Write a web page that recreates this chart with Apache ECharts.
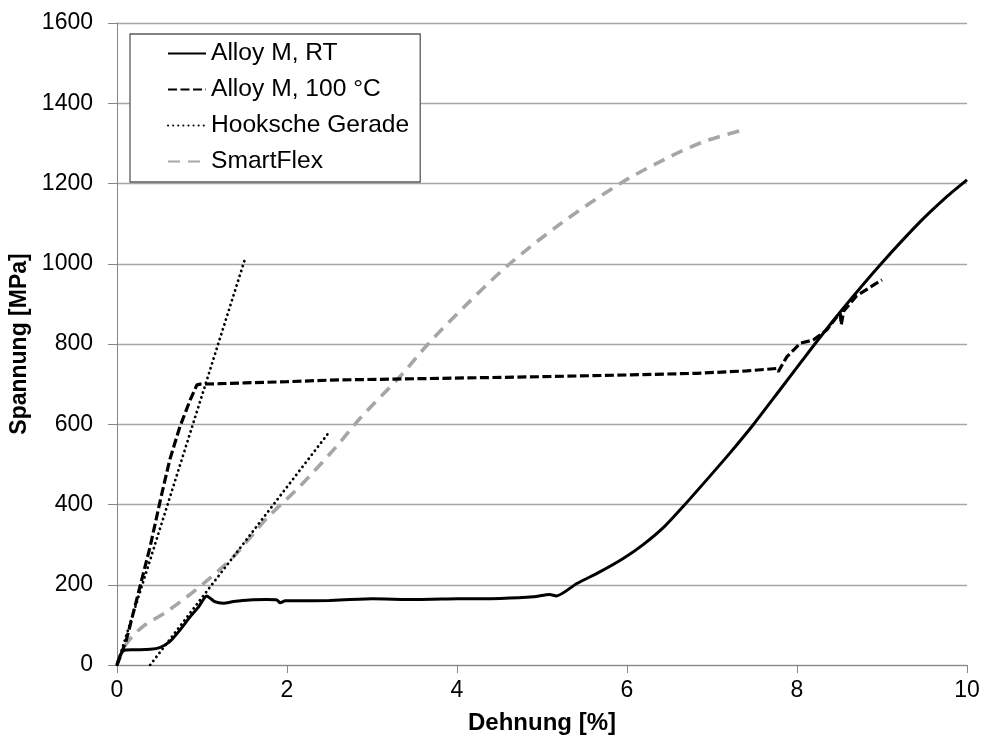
<!DOCTYPE html>
<html>
<head>
<meta charset="utf-8">
<script src="https://cdn.jsdelivr.net/npm/echarts@6/dist/echarts.min.js"></script>
<style>
  html, body { margin: 0; padding: 0; background: #fff; }
  #chart { width: 984px; height: 744px; }
</style>
</head>
<body>
<div id="chart"></div>
<script>
// Strain [%] / stress [MPa] pairs for each curve
const alloyRT = [
  [0, 0], [0.03, 20], [0.075, 36], [0.19, 38], [0.39, 39], [0.51, 44], [0.62, 58],
  [0.74, 87], [0.86, 120], [0.96, 145], [1.055, 172], [1.15, 158], [1.25, 154],
  [1.37, 158], [1.56, 162], [1.76, 163], [1.88, 162], [1.92, 155], [1.98, 160],
  [2.15, 160], [2.5, 161], [3.0, 165], [3.5, 163], [4.0, 165], [4.51, 166],
  [4.9, 170], [5.09, 176], [5.17, 172], [5.41, 203], [5.68, 232], [5.96, 266],
  [6.19, 300], [6.43, 343], [6.66, 395], [6.94, 462], [7.21, 528], [7.49, 600],
  [7.8, 686], [8.21, 800], [8.54, 888], [8.99, 1000], [9.45, 1105], [9.75, 1165],
  [10.0, 1209]
];

const alloy100 = [
  [0, 0], [0.05, 28], [0.11, 62], [0.27, 195], [0.39, 295], [0.51, 411],
  [0.62, 511], [0.74, 594], [0.86, 660], [0.94, 698], [0.98, 700], [1.2, 701],
  [1.5, 703], [2.0, 706], [2.51, 710], [3.68, 714], [4.86, 718], [6.04, 723],
  [6.82, 727], [7.41, 733], [7.76, 739], [7.78, 731], [7.88, 768], [8.04, 802],
  [8.19, 810], [8.35, 835], [8.47, 868], [8.51, 876], [8.52, 848], [8.55, 882],
  [8.7, 920], [9.0, 960]
];

// Hooke's law lines (two straight segments)
const hookeA = [[0, 0], [1.5, 1008]];
const hookeB = [[0.39, 0], [2.48, 576]];

const smartFlex = [
  [0, 0], [0.1, 50], [0.3, 95], [0.6, 135], [1.0, 200], [1.37, 270], [1.76, 365],
  [2.15, 445], [2.58, 544], [2.86, 615], [3.33, 719], [3.66, 800], [4.12, 900],
  [4.62, 1000], [5.22, 1100], [5.92, 1200], [6.43, 1259], [6.9, 1304], [7.37, 1334]
];

const xTicks = { min: 0, max: 10, step: 2 };
const yTicks = { min: 0, max: 1600, step: 200 };

const FONT = "'Liberation Sans', Arial, sans-serif";
const AXIS_GREY = '#868686';

const chart = echarts.init(document.getElementById('chart'), null, { renderer: 'canvas' });

chart.setOption({
  animation: false,
  backgroundColor: '#fff',
  grid: { left: 117, right: 17, top: 23, bottom: 79, containLabel: false, outerBoundsMode: 'none' },
  xAxis: {
    type: 'value',
    min: xTicks.min, max: xTicks.max, interval: xTicks.step,
    name: 'Dehnung [%]',
    nameLocation: 'middle',
    nameGap: 46,
    nameTextStyle: { fontFamily: FONT, fontWeight: 'bold', fontSize: 24, color: '#000' },
    axisLine: { lineStyle: { color: AXIS_GREY, width: 1 } },
    axisTick: { show: true, inside: false, length: 8, lineStyle: { color: AXIS_GREY } },
    axisLabel: { fontFamily: FONT, fontSize: 23, color: '#000', margin: 14,
                 formatter: v => String(v) },
    splitLine: { show: false }
  },
  yAxis: {
    type: 'value',
    min: yTicks.min, max: yTicks.max, interval: yTicks.step,
    name: 'Spannung [MPa]',
    nameLocation: 'middle',
    nameGap: 85,
    nameRotate: 90,
    nameTextStyle: { fontFamily: FONT, fontWeight: 'bold', fontSize: 23, color: '#000' },
    axisLine: { show: true, lineStyle: { color: AXIS_GREY, width: 1 } },
    axisTick: { show: true, inside: false, length: 9, lineStyle: { color: AXIS_GREY } },
    axisLabel: { fontFamily: FONT, fontSize: 23, color: '#000', margin: 24,
                 formatter: v => String(v) },
    splitLine: { show: true, lineStyle: { color: '#a6a6a6', width: 1.3 } }
  },
  legend: {
    left: 130, top: 34,
    orient: 'vertical',
    backgroundColor: '#fff',
    borderColor: '#5a5a5a',
    borderWidth: 1.3,
    borderRadius: 0,
    padding: [7, 11, 8, 37],
    itemWidth: 38,
    itemHeight: 14,
    itemGap: 11,
    itemStyle: { opacity: 0 },
    textStyle: { fontFamily: FONT, fontSize: 24.6, color: '#000', lineHeight: 24.6 },
    data: ['Alloy M, RT', 'Alloy M, 100 °C', 'Hooksche Gerade', 'SmartFlex']
  },
  series: [
    {
      name: 'Alloy M, RT', type: 'line', data: alloyRT, showSymbol: false, symbol: 'none',
      smooth: 0.2, z: 4,
      lineStyle: { color: '#000', width: 3, type: 'solid' },
      itemStyle: { color: '#000' }
    },
    {
      name: 'Alloy M, 100 °C', type: 'line', data: alloy100, showSymbol: false, symbol: 'none',
      z: 4,
      lineStyle: { color: '#000', width: 3.2, type: [9, 3.5] },
      itemStyle: { color: '#000' }
    },
    {
      name: 'Hooksche Gerade', type: 'line', data: hookeA, showSymbol: false, symbol: 'none',
      z: 3,
      lineStyle: { color: '#000', width: 2.8, type: [0.1, 5], cap: 'round' },
      itemStyle: { color: '#000' }
    },
    {
      name: 'Hooksche Gerade', type: 'line', data: hookeB, showSymbol: false, symbol: 'none',
      z: 3,
      lineStyle: { color: '#000', width: 2.8, type: [0.1, 5], cap: 'round' },
      itemStyle: { color: '#000' }
    },
    {
      name: 'SmartFlex', type: 'line', data: smartFlex, showSymbol: false, symbol: 'none',
      smooth: 0.3, z: 2,
      lineStyle: { color: '#a6a6a6', width: 3.6, type: [12, 8] },
      itemStyle: { color: '#a6a6a6' }
    }
  ]
});
</script>
</body>
</html>
